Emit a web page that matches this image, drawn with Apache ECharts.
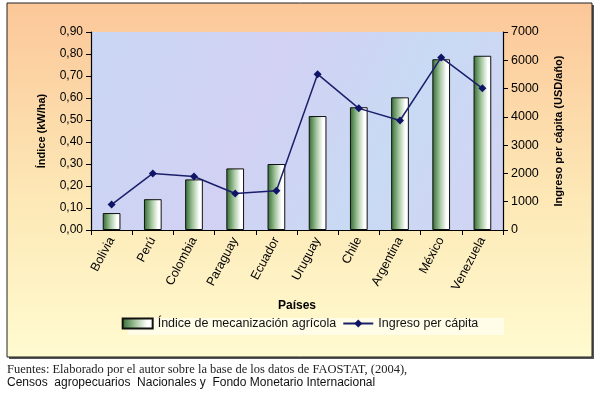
<!DOCTYPE html>
<html><head><meta charset="utf-8">
<script src="https://cdn.jsdelivr.net/npm/echarts@6/dist/echarts.min.js"></script>
<style>html,body{margin:0;padding:0;background:#fff}#c{width:600px;height:394px}</style>
</head><body><div id="c"></div>
<script>
const categories = ['Bolivia','Perú','Colombia','Paraguay','Ecuador','Uruguay','Chile','Argentina','México','Venezuela'];
const indiceMecanizacion = [0.077, 0.14, 0.23, 0.28, 0.30, 0.518, 0.558, 0.603, 0.776, 0.792];
const ingresoPerCapita = [900, 2000, 1890, 1290, 1390, 5510, 4300, 3870, 6100, 5010];
const leftTicks = {min: 0, max: 0.9, interval: 0.1};
const rightTicks = {min: 0, max: 7000, interval: 1000};

const chart = echarts.init(document.getElementById('c'));
const F = 'Liberation Sans, Arial, sans-serif';
chart.setOption({
  animation: false,
  graphic: [
    {type:'rect', z:-10, shape:{x:9,y:5,width:585,height:354}, style:{fill:'#555'}},
    {type:'rect', z:-9, shape:{x:7,y:3,width:585,height:354},
     style:{fill:new echarts.graphic.LinearGradient(0,0,0,1,[{offset:0,color:'#fcc799'},{offset:0.55,color:'#fde8b6'},{offset:1,color:'#fffbd0'}]), stroke:'#222', lineWidth:1}},
    {type:'rect', z:-8, shape:{x:128,y:318,width:376,height:17}, style:{fill:'#fffde8'}},
    {type:'text', left:7, top:363, style:{text:'Fuentes: Elaborado por el autor sobre la base de los datos de FAOSTAT, (2004),', font:'12.5px "Liberation Serif", "Times New Roman", serif', fill:'#222'}},
    {type:'text', left:7, top:377, style:{text:'Censos  agropecuarios  Nacionales y  Fondo Monetario Internacional', font:'12px "Liberation Sans", Arial, sans-serif', fill:'#111'}}
  ],
  legend: {
    bottom: 59, left: 'center',
    itemWidth: 30, itemHeight: 10, itemGap: 6,
    textStyle: {fontFamily: F, fontSize: 12.5, color: '#111'},
    data: [
      {name:'Índice de mecanización agrícola', icon:'rect'},
      {name:'Ingreso per cápita'}
    ]
  },
  grid: {left: 91, top: 32, right: 97, bottom: 164, show: true,
    backgroundColor: new echarts.graphic.LinearGradient(0,0,1,1,[{offset:0,color:'#c9d7f4'},{offset:0.4,color:'#d2d1f3'},{offset:0.7,color:'#c8daf4'},{offset:1,color:'#d3d3f3'}]),
    borderWidth: 0},
  xAxis: {
    type: 'category', data: categories,
    name: 'Países', nameLocation: 'middle', nameGap: 62,
    nameTextStyle: {fontFamily: F, fontSize: 12, fontWeight: 'bold', color: '#000'},
    axisLine: {lineStyle: {color: '#000', width: 1.2}},
    axisTick: {show: true, alignWithLabel: false, length: 5, lineStyle: {color: '#000'}},
    axisLabel: {rotate: 62, fontFamily: F, fontSize: 12.5, color: '#000', margin: 8}
  },
  yAxis: [
    {type: 'value', min: leftTicks.min, max: leftTicks.max, interval: leftTicks.interval,
     name: 'Índice (kW/ha)', nameLocation: 'middle', nameGap: 44, nameRotate: 90,
     nameTextStyle: {fontFamily: F, fontSize: 11, fontWeight: 'bold', color: '#000'},
     axisLine: {show: true, lineStyle: {color: '#000', width: 1.2}},
     axisTick: {show: true, length: 5, lineStyle: {color: '#000'}},
     splitLine: {show: false},
     axisLabel: {fontFamily: F, fontSize: 12, color: '#000', margin: 8,
       formatter: v => v.toFixed(2).replace('.', ',')}},
    {type: 'value', min: rightTicks.min, max: rightTicks.max, interval: rightTicks.interval,
     position: 'right',
     name: 'Ingreso per cápita (USD/año)', nameLocation: 'middle', nameGap: 50, nameRotate: 90,
     nameTextStyle: {fontFamily: F, fontSize: 11, fontWeight: 'bold', color: '#000'},
     axisLine: {show: true, lineStyle: {color: '#000', width: 1.2}},
     axisTick: {show: true, length: 5, lineStyle: {color: '#000'}},
     splitLine: {show: false},
     axisLabel: {fontFamily: F, fontSize: 12.5, color: '#000', margin: 8,
       formatter: v => String(v)}}
  ],
  series: [
    {name: 'Índice de mecanización agrícola', type: 'bar', yAxisIndex: 0, data: indiceMecanizacion,
     barWidth: '43%',
     itemStyle: {borderColor: '#111', borderWidth: 1,
       color: new echarts.graphic.LinearGradient(0,0,1,0,[{offset:0,color:'#2f6a2f'},{offset:0.45,color:'#a9c9a3'},{offset:0.8,color:'#ffffff'},{offset:1,color:'#ffffff'}])}},
    {name: 'Ingreso per cápita', type: 'line', yAxisIndex: 1, data: ingresoPerCapita,
     symbol: 'diamond', symbolSize: 8,
     lineStyle: {color: '#1b1f6b', width: 1.5},
     itemStyle: {color: '#0f1466'}}
  ]
});
</script></body></html>
